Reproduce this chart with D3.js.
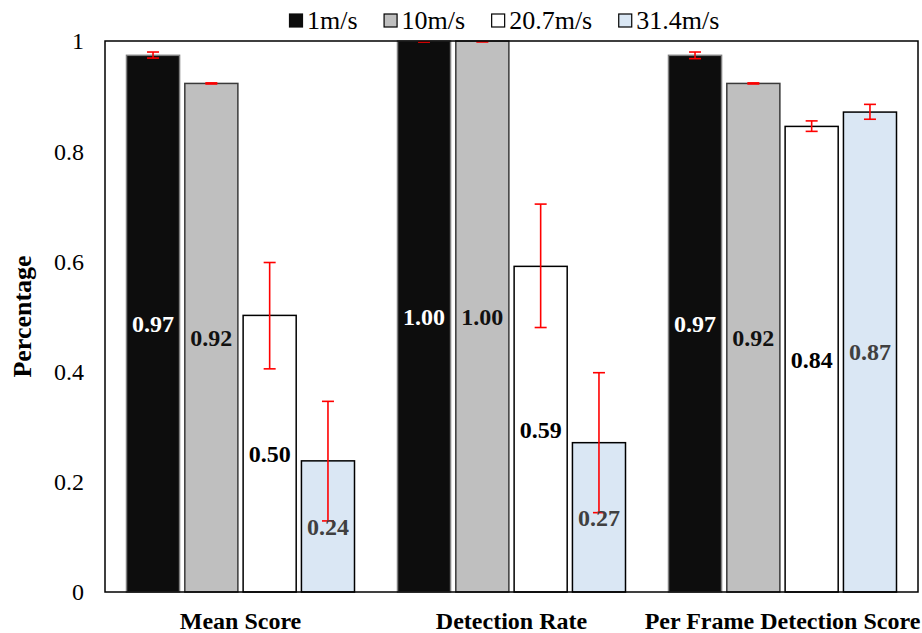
<!DOCTYPE html>
<html>
<head>
<meta charset="utf-8">
<script src="https://cdn.jsdelivr.net/npm/d3@7"></script>
<style>
  body { margin: 0; background: #fff; }
  svg { display: block; font-family: "Liberation Serif", "Times New Roman", serif; }
</style>
</head>
<body>
<svg id="chart" width="922" height="633"></svg>
<script>
const CATEGORIES = ["Mean Score", "Detection Rate", "Per Frame Detection Score"];
const SERIES = ["1m/s", "10m/s", "20.7m/s", "31.4m/s"];
// values per series, one per category
const VALUES = [
  [0.974, 1.0, 0.974],
  [0.923, 1.0, 0.923],
  [0.502, 0.591, 0.845],
  [0.238, 0.271, 0.871],
];
// error bar low / high per series
const ERR_LOW = [
  [0.969, 1.0, 0.968],
  [0.922, 1.0, 0.922],
  [0.405, 0.48, 0.836],
  [0.129, 0.144, 0.858],
];
const ERR_HIGH = [
  [0.980, 1.0, 0.980],
  [0.924, 1.0, 0.924],
  [0.598, 0.704, 0.855],
  [0.346, 0.398, 0.885],
];
const Y_TICKS = [0, 0.2, 0.4, 0.6, 0.8, 1];

const FILLS = ["#0d0d0d", "#bfbfbf", "#ffffff", "#dae7f4"];
const STROKES = ["#7f7f7f", "#3a3a3a", "#000000", "#000000"];
const LABEL_COLORS = ["#ffffff", "#111111", "#000000", "#404040"];

var svg = d3.select("#chart");
var margin = { top: 41, bottom: 41, left: 105, right: 4 };
var width = 922, height = 633;

var x0 = d3.scaleBand().domain(CATEGORIES).range([margin.left, width - margin.right]);
var x1 = d3.scaleBand().domain(SERIES).range([21.5, x0.bandwidth() - 21.5]).paddingInner(0.09);
var y = d3.scaleLinear().domain([0, 1]).range([592, 41]);

// bar data
var bars = [];
SERIES.forEach((s, si) => {
  CATEGORIES.forEach((c, ci) => {
    bars.push({ s: s, si: si, c: c, v: VALUES[si][ci], lo: ERR_LOW[si][ci], hi: ERR_HIGH[si][ci] });
  });
});

var g = svg.append("g");

g.selectAll(".bar")
  .data(bars)
  .join("rect")
  .attr("class", "bar")
  .attr("x", (d) => x0(d.c) + x1(d.s))
  .attr("y", (d) => y(d.v))
  .attr("width", x1.bandwidth())
  .attr("height", (d) => y(0) - y(d.v))
  .attr("fill", (d) => FILLS[d.si])
  .attr("stroke", (d) => STROKES[d.si])
  .attr("stroke-width", 1.5);

// frame
svg.append("rect")
  .attr("x", margin.left)
  .attr("y", y(1))
  .attr("width", width - margin.right - margin.left)
  .attr("height", y(0) - y(1))
  .attr("fill", "none")
  .attr("stroke", "#000")
  .attr("stroke-width", 1.5);

// error bars
var eb = g.selectAll(".err").data(bars.filter((d) => d.hi - d.lo > 0.0001)).join("g").attr("class", "err");
eb.append("line")
  .attr("x1", (d) => x0(d.c) + x1(d.s) + x1.bandwidth() / 2)
  .attr("x2", (d) => x0(d.c) + x1(d.s) + x1.bandwidth() / 2)
  .attr("y1", (d) => y(d.lo))
  .attr("y2", (d) => y(d.hi));
["lo", "hi"].forEach((k) => {
  eb.append("line")
    .attr("x1", (d) => x0(d.c) + x1(d.s) + x1.bandwidth() / 2 - 6)
    .attr("x2", (d) => x0(d.c) + x1(d.s) + x1.bandwidth() / 2 + 6)
    .attr("y1", (d) => y(d[k]))
    .attr("y2", (d) => y(d[k]));
});
eb.selectAll("line").attr("stroke", "#ff0000").attr("stroke-width", 1.6);

// cap marks for the 1.00 bars (zero width error)
g.selectAll(".flat")
  .data(bars.filter((d) => d.hi - d.lo <= 0.0001))
  .join("line")
  .attr("x1", (d) => x0(d.c) + x1(d.s) + x1.bandwidth() / 2 - 6)
  .attr("x2", (d) => x0(d.c) + x1(d.s) + x1.bandwidth() / 2 + 6)
  .attr("y1", (d) => y(d.v) + 1)
  .attr("y2", (d) => y(d.v) + 1)
  .attr("stroke", "#ff0000")
  .attr("stroke-width", 1.6);

// value labels
g.selectAll(".vlabel")
  .data(bars)
  .join("text")
  .attr("class", "vlabel")
  .attr("x", (d) => x0(d.c) + x1(d.s) + x1.bandwidth() / 2)
  .attr("y", (d) => (y(d.v) + y(0)) / 2)
  .attr("dy", "0.35em")
  .attr("text-anchor", "middle")
  .attr("font-size", 24)
  .attr("font-weight", "bold")
  .attr("fill", (d) => LABEL_COLORS[d.si])
  .text((d) => d.v.toFixed(2));

// y axis tick labels
svg.selectAll(".ytick")
  .data(Y_TICKS)
  .join("text")
  .attr("class", "ytick")
  .attr("x", 84)
  .attr("y", (d) => y(d))
  .attr("dy", "0.35em")
  .attr("text-anchor", "end")
  .attr("font-size", 24)
  .text((d) => d3.format("")(d));

svg.append("text")
  .attr("transform", `translate(22, ${(y(0) + y(1)) / 2}) rotate(-90)`)
  .attr("dy", "0.35em")
  .attr("text-anchor", "middle")
  .attr("font-size", 26)
  .attr("font-weight", "bold")
  .text("Percentage");

// category labels
svg.selectAll(".xlabel")
  .data(CATEGORIES)
  .join("text")
  .attr("class", "xlabel")
  .attr("x", (d) => x0(d) + x0.bandwidth() / 2)
  .attr("y", 629)
  .attr("text-anchor", "middle")
  .attr("font-size", 24)
  .attr("font-weight", "bold")
  .text((d) => d);

// legend
var legend = svg.append("g").attr("transform", "translate(289, 0)");
var lx = 0;
SERIES.forEach((s, i) => {
  var item = legend.append("g").attr("transform", `translate(${lx}, 0)`);
  item.append("rect")
    .attr("x", 0.5)
    .attr("y", 14)
    .attr("width", 13)
    .attr("height", 13)
    .attr("fill", FILLS[i])
    .attr("stroke", i == 0 ? FILLS[0] : "#000")
    .attr("stroke-width", 1.2);
  var t = item.append("text")
    .attr("x", 18)
    .attr("y", 29)
    .attr("font-size", 26)
    .text(s);
  lx += 18 + t.node().getComputedTextLength() + 26;
});
</script>
</body>
</html>
